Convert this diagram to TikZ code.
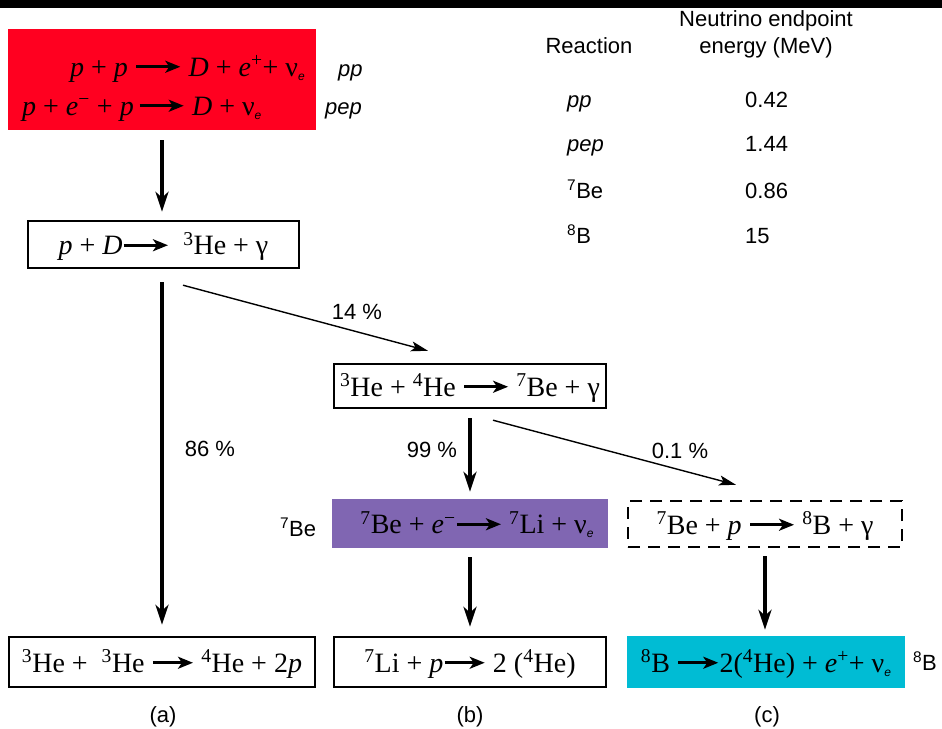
\documentclass[tikz,border=0pt]{standalone}
\usepackage{fontspec}
\setmainfont{Liberation Serif}
\setsansfont{Liberation Sans}
\usetikzlibrary{arrows.meta}

\definecolor{ppred}{RGB}{255,0,32}
\definecolor{bepurple}{RGB}{128,102,178}
\definecolor{bcyan}{RGB}{0,188,212}

% reaction arrow used inside the equations
\newcommand\reacarrow[1][44pt]{\tikz[baseline=-0.72ex]\draw[line width=2.6pt,-{Stealth[length=15pt,width=12pt,inset=4pt]}] (0pt,0pt) -- (#1,0pt);}
\newcommand\nue{ν\raisebox{-4pt}{\fontsize{12}{12}\selectfont\sffamily\itshape e}}
\newcommand\ip{\textit{p}}

\begin{document}
\begin{tikzpicture}[x=1pt,y=-1pt,
  eq/.style={font=\fontsize{28}{34}\selectfont, inner sep=0pt},
  lbl/.style={font=\sffamily\fontsize{22}{26}\selectfont, inner sep=0pt},
  eqbox/.style={eq, draw, line width=2.4pt, text height=20pt, text depth=0pt},
  fillbox/.style={eq, text height=20pt, text depth=0pt},
  bigarrow/.style={line width=4pt, -{Stealth[length=20pt,width=13pt,inset=6pt]}},
  thinarrow/.style={line width=1.4pt, -{Stealth[length=17pt,width=10pt,inset=4pt]}}]

\useasboundingbox (0,0) rectangle (942,728);
\fill[black] (0,0) rectangle (942,8);

% pp and pep chain start
\node[fill=ppred, minimum width=308pt, minimum height=101pt, inner sep=0pt] (pp) at (162,79.5) {};
\node[eq, anchor=base west] (ppline) at (70,76) {\ip{} + \ip{} \reacarrow{} \textit{D} + \textit{e}\textsuperscript{+}+ \nue};
\node[eq, anchor=base west] (pepline) at (22,115) {\ip{} + \textit{e}\textsuperscript{−} + \ip{}\,\reacarrow{} \textit{D} + \nue};
\node[lbl, font=\sffamily\itshape\fontsize{22}{26}\selectfont, anchor=base west] (pplbl) at (338,76) {pp};
\node[lbl, font=\sffamily\itshape\fontsize{22}{26}\selectfont, anchor=base west] (peplbl) at (325,114) {pep};

% reaction boxes
\node[eqbox, minimum width=271pt, minimum height=47pt] (pd) at (163.5,244.5) {\ip{} + \textit{D}\reacarrow{}~~\textsuperscript{3}He + γ};
\node[eqbox, minimum width=272pt, minimum height=44pt] (be3) at (470,386) {\textsuperscript{3}He + \textsuperscript{4}He \reacarrow{} \textsuperscript{7}Be + γ};
\node[fillbox, fill=bepurple, minimum width=276pt, minimum height=49pt] (be7) at (470,523.5) {~~\textsuperscript{7}Be + \textit{e}\textsuperscript{−}\reacarrow{} \textsuperscript{7}Li + \nue};
\node[eqbox, dash pattern=on 12pt off 8pt, minimum width=274pt, minimum height=46pt] (b8) at (765,524) {\textsuperscript{7}Be + \ip{} \reacarrow{} \textsuperscript{8}B + γ};
\node[eqbox, minimum width=306pt, minimum height=50pt] (a) at (162,662) {\textsuperscript{3}He +~ \textsuperscript{3}He \reacarrow[40pt]{} \textsuperscript{4}He + 2\ip};
\node[eqbox, minimum width=272pt, minimum height=50pt] (b) at (470,662) {\textsuperscript{7}Li + \ip\reacarrow[40pt]{} 2 (\textsuperscript{4}He)};
\node[fillbox, fill=bcyan, minimum width=278pt, minimum height=52pt] (c) at (766,662) {\textsuperscript{8}B \reacarrow[40pt]2(\textsuperscript{4}He) + \textit{e}\textsuperscript{+}+ \nue};

% side labels
\node[lbl, anchor=base] (be7lbl) at (298,536) {\textsuperscript{7}Be};
\node[lbl, anchor=base] (b8lbl) at (925,670) {\textsuperscript{8}B};

% branches
\draw[bigarrow, shorten <=10pt, shorten >=8pt] (pp.south) -- (pp.south |- pd.north);
\draw[bigarrow, shorten <=13pt, shorten >=11pt] (a.north |- pd.south) -- (a.north);
\draw[bigarrow, shorten <=9pt, shorten >=7pt] (be3.south) -- (be7.north);
\draw[bigarrow, shorten <=9pt, shorten >=9pt] (be7.south) -- (b.north);
\draw[bigarrow, shorten <=8pt, shorten >=6pt] (b8.south) -- (b8.south |- c.north);
\draw[thinarrow] ([shift={(19.5,16)}]pd.south) -- ([shift={(-42,-12)}]be3.north);
\draw[thinarrow] ([shift={(23,11)}]be3.south) -- ([shift={(-29,-15)}]b8.north);

% branching ratios
\node[lbl, anchor=base] (r86) at (210,456) {86 \%};
\node[lbl, anchor=base] (r14) at (357,319) {14 \%};
\node[lbl, anchor=base] (r99) at (432,457) {99 \%};
\node[lbl, anchor=base] (r01) at (680,458) {0.1 \%};

% chain labels
\node[lbl, anchor=base] (la) at (163,722) {(a)};
\node[lbl, anchor=base] (lb) at (470,722) {(b)};
\node[lbl, anchor=base] (lc) at (767,722) {(c)};

% neutrino endpoint table
\node[lbl, anchor=base] (th2) at (766,27) {Neutrino endpoint};
\node[lbl, anchor=base] (th1) at (589,53) {Reaction};
\node[lbl, anchor=base] (th3) at (766,53) {energy (MeV)};
\node[lbl, anchor=base west, font=\sffamily\itshape\fontsize{22}{26}\selectfont] (t1) at (567,107) {pp};
\node[lbl, anchor=base west, font=\sffamily\itshape\fontsize{22}{26}\selectfont] (t2) at (567,151) {pep};
\node[lbl, anchor=base west] (t3) at (567,198) {\textsuperscript{7}Be};
\node[lbl, anchor=base west] (t4) at (567,243) {\textsuperscript{8}B};
\node[lbl, anchor=base west] (v1) at (745,107) {0.42};
\node[lbl, anchor=base west] (v2) at (745,151) {1.44};
\node[lbl, anchor=base west] (v3) at (745,198) {0.86};
\node[lbl, anchor=base west] (v4) at (745,243) {15};
\end{tikzpicture}
\end{document}
